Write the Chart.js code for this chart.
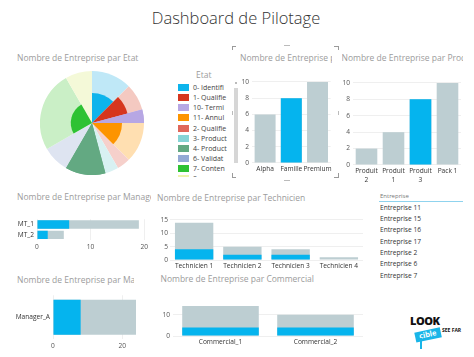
<!DOCTYPE html>
<html><head><meta charset="utf-8">
<script src="https://cdn.jsdelivr.net/npm/chart.js@4/dist/chart.umd.min.js"></script>
<style>
body{margin:0;width:474px;height:357px;background:#fff;position:relative;overflow:hidden;font-family:"Open Sans",sans-serif;}
.t{position:absolute;white-space:nowrap;line-height:1;}
.clip{position:absolute;overflow:hidden;white-space:nowrap;line-height:1;}
.ln{position:absolute;background:#9a9a9a;}
</style></head><body>
<script>
// ---------- DATA ----------
const etatLabels = ["0- Identifi","1- Qualifie","10- Termi","11- Annul","2- Qualifie","3- Product","4- Product","6- Validat","7- Conten","8-"];
const etatTotals = [3,2,1,3,1,1,3,2,6,2];
const etatHighlight = [1,1,1,1,0,0,3,0,1,0];
const etatColors = ["#0DB4EC","#D6361E","#B7A7E4","#FD9400","#E0675A","#86D4D6","#63A982","#94A9D5","#2EC233","#EEF4AE"];
const etatLight  = ["#BFE8F7","#F4C9C1","#B7A7E4","#FFDFB1","#F6D0CB","#D8F1F2","#63A982","#DEE4F1","#CAEFC6","#F4F9D8"];

const familleCats = ["Alpha","Famille","Premium"];
const familleTotal = [6,8,10];
const familleHigh = [0,8,0];
const familleTicks = [0,2,4,6,8,10];

const produitCats = [["Produit","2"],["Produit","1"],["Produit","3"],"Pack 1"];
const produitTotal = [2,4,8,10];
const produitHigh = [0,0,8,0];
const produitTicks = [0,2,4,6,8,10];

const managerCats = ["MT_1","MT_2"];
const managerTotal = [19,5];
const managerHigh = [6,2];
const managerTicks = [0,10,20];

const managerACats = ["Manager_A"];
const managerATotal = [24];
const managerAHigh = [8];
const managerATicks = [0,20];

const techCats = ["Technicien 1","Technicien 2","Technicien 3","Technicien 4"];
const techTotal = [14,5,4,1];
const techHigh = [4,2,2,0];
const techTicks = [0,5,10,15];

const commCats = ["Commercial_1","Commercial_2"];
const commTotal = [14,10];
const commHigh = [4,4];
const commTicks = [0,5,10,15];

const entreprises = ["Entreprise 11","Entreprise 15","Entreprise 16","Entreprise 17","Entreprise 2","Entreprise 6","Entreprise 7"];

// ---------- HELPERS ----------
const FONT = "'Open Sans', sans-serif";
const CYAN = "#05B4EE", GREY = "#BDCED2";
const TITLE_C = "#9c9c9c";
function txt(s, x, y, size, color, extra){
  const d=document.createElement('div'); d.className='t'; d.textContent=s;
  d.style.cssText += `left:${x}px;top:${y-size*0.55}px;font-size:${size}px;color:${color};`+(extra||'');
  document.body.appendChild(d); return d;
}
function clipTxt(s, x, y, size, color, w){
  const d=document.createElement('div'); d.className='clip'; d.textContent=s;
  d.style.cssText += `left:${x}px;top:${y-size*0.65}px;font-size:${size}px;color:${color};width:${w}px;height:${size*1.4}px;`;
  document.body.appendChild(d); return d;
}
function line(x,y,w,h,c){ const d=document.createElement('div'); d.className='ln'; d.style.cssText+=`left:${x}px;top:${y}px;width:${w}px;height:${h}px;`+(c?`background:${c};`:''); document.body.appendChild(d); }
function mk(left, top, w, h){
  const c=document.createElement('canvas'); c.width=w; c.height=h;
  c.style.cssText=`position:absolute;left:${left}px;top:${top}px;width:${w}px;height:${h}px`;
  document.body.appendChild(c); return c;
}

function bars(cfg){
  const horiz = !!cfg.horizontal;
  const cv = mk(cfg.left, cfg.top, cfg.w, cfg.h);
  const valueAxis = {
    type:'linear', min:0, max:cfg.max,
    afterBuildTicks: s => { s.ticks = cfg.ticks.map(v=>({value:v})); },
    grid:{color:'#EFEFEF', drawTicks:false, lineWidth:1},
    border:{display:false},
    ticks:{font:{family:FONT,size:6.6}, color:'#555', padding:cfg.vPad}
  };
  const catAxis = {
    type:'category',
    grid:{display:false, drawTicks:false},
    border:{display:false},
    ticks:{font:{family:FONT,size:6.6, lineHeight:1.3}, color:'#333', padding:cfg.cPad, maxRotation:0, autoSkip:false}
  };
  const x = horiz ? valueAxis : catAxis;
  const y = horiz ? catAxis : valueAxis;
  x.afterFit = s => { s.height = cfg.axH; };
  y.afterFit = s => { s.width = cfg.axW; };
  new Chart(cv, {
    type:'bar',
    data:{labels:cfg.cats, datasets:[
      {data:cfg.high, backgroundColor:CYAN, grouped:false, barPercentage:cfg.bp, categoryPercentage:1},
      {data:cfg.total, backgroundColor:GREY, grouped:false, barPercentage:cfg.bp, categoryPercentage:1}
    ]},
    options:{indexAxis: horiz?'y':'x', responsive:false, animation:false, devicePixelRatio:1,
      layout:{padding:cfg.pad},
      plugins:{legend:{display:false}, tooltip:{enabled:false}},
      scales:{x, y}}
  });
}

// ---------- TITLES ----------
const main = txt("Dashboard de Pilotage", 100, 19.5, 16.5, "#333", "width:272px;text-align:center;font-weight:300;");
txt("Nombre de Entreprise par Etat", 17, 58.5, 8.5, TITLE_C);
clipTxt("Nombre de Entreprise par Famille", 240, 60, 8.5, TITLE_C, 92);
clipTxt("Nombre de Entreprise par Produit", 341.5, 60, 8.5, TITLE_C, 121);
clipTxt("Nombre de Entreprise par Manager", 17, 198.5, 8.5, TITLE_C, 134);
clipTxt("Nombre de Entreprise par Manager", 17, 282, 8.5, TITLE_C, 117);
txt("Nombre de Entreprise par Technicien", 157, 198.5, 8.5, TITLE_C);
txt("Nombre de Entreprise par Commercial", 160.5, 279.5, 8.5, TITLE_C);

// ---------- PIE ----------
const hlPlugin = {
  id:'hl',
  afterDatasetsDraw(chart){
    const ctx = chart.ctx; const meta = chart.getDatasetMeta(0);
    meta.data.forEach((arc,i)=>{
      const f = Math.sqrt(etatHighlight[i]/etatTotals[i]); if(!f) return;
      const p = arc.getProps(['x','y','startAngle','endAngle','outerRadius'], true);
      ctx.save(); ctx.beginPath(); ctx.moveTo(p.x,p.y);
      ctx.arc(p.x,p.y,p.outerRadius*f,p.startAngle,p.endAngle); ctx.closePath();
      ctx.fillStyle = etatColors[i]; ctx.fill(); ctx.restore();
    });
  }
};
new Chart(mk(40,71,104,104), {
  type:'pie',
  data:{labels:etatLabels, datasets:[{data:etatTotals, backgroundColor:etatLight, borderWidth:0}]},
  options:{responsive:false, animation:false, devicePixelRatio:1, layout:{padding:0},
    plugins:{legend:{display:false}, tooltip:{enabled:false}}},
  plugins:[hlPlugin]
});
// legend
txt("Etat", 196, 75.5, 8.5, "#9c9c9c");
const leg = document.createElement('div');
leg.style.cssText = "position:absolute;left:176px;top:83px;width:52px;height:94px;overflow:hidden;";
document.body.appendChild(leg);
etatLabels.forEach((l,i)=>{
  const r = document.createElement('div');
  r.style.cssText = `position:absolute;left:0;top:${i*10.15}px;height:10px;width:52px;white-space:nowrap;overflow:hidden;font-size:7px;line-height:10px;color:#444;`;
  r.innerHTML = `<span style="display:inline-block;width:11px;height:7px;margin-left:2px;margin-right:4px;vertical-align:-1px;background:${etatColors[i]}"></span>${l}`;
  leg.appendChild(r);
});
// scrollbar + focus frame
line(234,88,3.5,75,"#D6D6D6");
line(235,82,1.5,2,"#BBBBBB");
line(232,46,4,1); line(232,46,1,4);
line(334,46,4,1); line(338,46,1,4);
line(232,177,4,1); line(232,173,1,4);
line(334,177,4,1); line(338,173,1,5);
line(284,45,6,1,"#BBBBBB"); line(284,180,6,1,"#BBBBBB");
line(232,111,1,4,"#BBBBBB"); line(338,111,1,4,"#BBBBBB");

// ---------- BAR CHARTS ----------
bars({left:234, top:75, w:100, h:100, cats:familleCats, total:familleTotal, high:familleHigh,
  ticks:familleTicks, max:10, axW:18, axH:12, vPad:3, cPad:2, bp:0.8, pad:{top:6,right:2,left:0,bottom:0}});
bars({left:335, top:76, w:128, h:111, cats:produitCats, total:produitTotal, high:produitHigh,
  ticks:produitTicks, max:10, axW:18, axH:22, vPad:3, cPad:2, bp:0.8, pad:{top:6,right:2,left:0,bottom:0}});
bars({left:0, top:212, w:151, h:39, cats:managerCats, total:managerTotal, high:managerHigh, horizontal:true,
  ticks:managerTicks, max:20, axW:37, axH:11, vPad:3, cPad:3, bp:0.81, pad:{top:2,right:6,left:0,bottom:0}});
bars({left:0, top:288, w:142, h:61, cats:managerACats, total:managerATotal, high:managerAHigh, horizontal:true,
  ticks:managerATicks, max:24, axW:53, axH:10, vPad:3, cPad:3, bp:0.8, pad:{top:2,right:6,left:0,bottom:0}});
bars({left:154, top:214, w:211, h:56, cats:techCats, total:techTotal, high:techHigh,
  ticks:techTicks, max:15, axW:16, axH:10, vPad:2, cPad:2, bp:0.795, pad:{top:5,right:2,left:0,bottom:0}});
bars({left:157, top:297, w:208, h:49, cats:commCats, total:commTotal, high:commHigh,
  ticks:commTicks, max:15, axW:16, axH:10, vPad:3, cPad:2, bp:0.806, pad:{top:5,right:2,left:0,bottom:0}});

// ---------- SLICER ----------
txt("Entreprise", 380, 196, 6, "#777");
line(379,200.5,84,1,"#8FD3EE");
entreprises.forEach((e,i)=> txt(e, 380, 208.3 + i*11.33, 6.6, "#333"));

// ---------- LOGO ----------
txt("LOOK", 410, 321.5, 11, "#111", "font-weight:800;letter-spacing:-0.5px;");
const tag = txt("cible", 415, 334, 7.5, "#fff", "background:#19B5E8;padding:1px 4px;font-weight:700;transform:rotate(-12deg);");
txt("SEE FAR", 442, 331, 5, "#111", "font-weight:700;");
line(420,338,2,11,"#19B5E8");
</script>
</body></html>
